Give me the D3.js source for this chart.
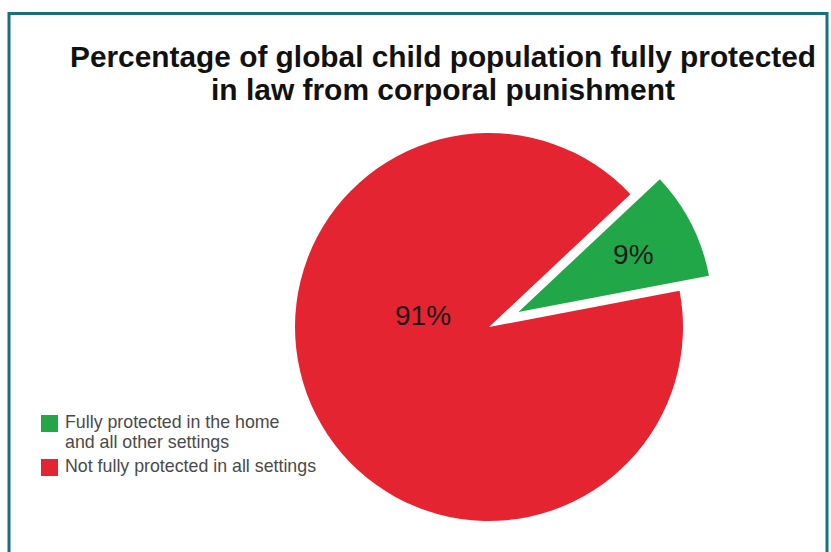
<!DOCTYPE html>
<html>
<head>
<meta charset="utf-8">
<script src="https://cdn.jsdelivr.net/npm/d3@7"></script>
<style>
  body { margin: 0; background: #fff; }
  svg { display: block; }
</style>
</head>
<body>
<svg id="chart" width="831" height="552"></svg>
<script>
// data
var categories = ["Fully protected in the home and all other settings", "Not fully protected in all settings"];
var values = [9, 91];
var sliceLabels = ["9%", "91%"];
var legendLines = [["Fully protected in the home", "and all other settings"], ["Not fully protected in all settings"]];
var titleLines = ["Percentage of global child population fully protected", "in law from corporal punishment"];

var colors = ["#22a748", "#e52431"];

var W = 831, H = 552;
var cx = 489, cy = 327, r = 194;
var explode = 33;
var startDeg = 46.8;

var svg = d3.select("#chart");

// frame
svg.append("rect")
  .attr("x", 9).attr("y", 13.5)
  .attr("width", 818).attr("height", 600)
  .attr("fill", "none")
  .attr("stroke", "#17717d")
  .attr("stroke-width", 3);

// title
var titleWidths = [746, 464];
svg.append("g").selectAll("text")
  .data(titleLines)
  .enter().append("text")
  .attr("x", 443)
  .attr("y", function(d, i) { return 67 + i * 33; })
  .attr("text-anchor", "middle")
  .attr("font-family", "Liberation Sans, Arial, sans-serif")
  .attr("font-weight", "bold")
  .attr("font-size", 30)
  .attr("textLength", function(d, i) { return titleWidths[i]; })
  .attr("lengthAdjust", "spacingAndGlyphs")
  .attr("fill", "#111")
  .text(function(d) { return d; });

var pie = d3.pie().sort(null)
  .startAngle(startDeg * Math.PI / 180)
  .endAngle(startDeg * Math.PI / 180 + 2 * Math.PI);
var arc = d3.arc().innerRadius(0).outerRadius(r);

var arcs = pie(values);

var g = svg.append("g").attr("transform", "translate(" + cx + "," + cy + ")");

var slices = g.selectAll("g.slice")
  .data(arcs)
  .enter().append("g")
  .attr("class", "slice")
  .attr("transform", function(d, i) {
    if (i != 0) return null;
    var a = (d.startAngle + d.endAngle) / 2;
    return "translate(" + (Math.sin(a) * explode) + "," + (-Math.cos(a) * explode) + ")";
  });

slices.append("path")
  .attr("d", arc)
  .attr("fill", function(d, i) { return colors[i]; });

// labels: green on its mid-angle, red placed left of centre like the original
var labelPos = [
  function(d) { var a = (d.startAngle + d.endAngle) / 2; return [Math.sin(a) * 129, -Math.cos(a) * 129]; },
  function(d) { var a = 280 * Math.PI / 180; return [Math.sin(a) * 67, -Math.cos(a) * 67]; }
];

slices.append("text")
  .attr("transform", function(d, i) { return "translate(" + labelPos[i](d) + ")"; })
  .attr("dy", "0.36em")
  .attr("text-anchor", "middle")
  .attr("font-family", "Liberation Sans, Arial, sans-serif")
  .attr("font-size", 28)
  .attr("fill", "#1a1a1a")
  .text(function(d, i) { return sliceLabels[i]; });

// legend
var legend = svg.append("g").attr("transform", "translate(41,415)");
var item = legend.selectAll("g")
  .data(categories)
  .enter().append("g")
  .attr("transform", function(d, i) { return "translate(0," + (i * 44) + ")"; });

item.append("rect")
  .attr("width", 17).attr("height", 17)
  .attr("fill", function(d, i) { return colors[i]; });

item.append("text")
  .attr("font-family", "Liberation Sans, Arial, sans-serif")
  .attr("font-size", 17.8)
  .attr("fill", "#4a4a4a")
  .selectAll("tspan")
  .data(function(d, i) { return legendLines[i]; })
  .enter().append("tspan")
  .attr("x", 24)
  .attr("y", function(d, j) { return 13 + j * 20; })
  .text(function(d) { return d; });
</script>
</body>
</html>
